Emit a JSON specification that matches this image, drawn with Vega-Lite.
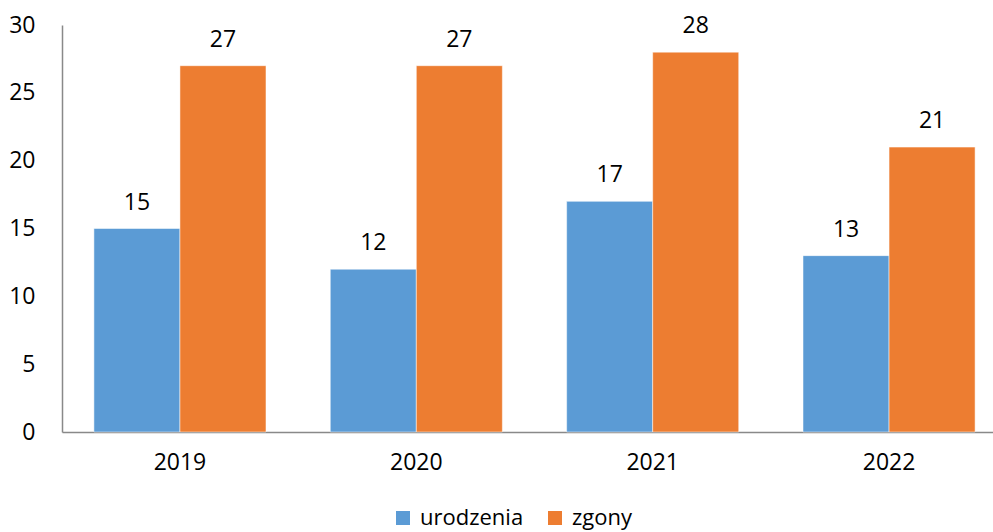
{
  "$schema": "https://vega.github.io/schema/vega-lite/v6.json",
  "autosize": {"type": "none"},
  "width": 945,
  "height": 407,
  "padding": {"left": 62, "top": 25, "right": 0, "bottom": 100},
  "background": "white",
  "config": {"view": {"stroke": null}, "font": "Open Sans"},
  "data": {"values": [
    {"rok": "2019", "seria": "urodzenia", "wartosc": 15},
    {"rok": "2019", "seria": "zgony", "wartosc": 27},
    {"rok": "2020", "seria": "urodzenia", "wartosc": 12},
    {"rok": "2020", "seria": "zgony", "wartosc": 27},
    {"rok": "2021", "seria": "urodzenia", "wartosc": 17},
    {"rok": "2021", "seria": "zgony", "wartosc": 28},
    {"rok": "2022", "seria": "urodzenia", "wartosc": 13},
    {"rok": "2022", "seria": "zgony", "wartosc": 21}
  ]},
  "encoding": {
    "x": {"field": "rok", "type": "nominal", "title": null,
      "scale": {"paddingInner": 0.272, "paddingOuter": 0.135},
      "axis": {"labelAngle": 0, "ticks": false, "labelPadding": 19, "labelFontSize": 23, "labelColor": "#000", "domainColor": "#898989", "domainWidth": 1.5, "labelFont": "Open Sans"}},
    "xOffset": {"field": "seria", "type": "nominal", "scale": {"paddingInner": 0}},
    "y": {"field": "wartosc", "type": "quantitative", "title": null,
      "scale": {"domain": [0, 30], "nice": false},
      "axis": {"values": [0, 5, 10, 15, 20, 25, 30], "grid": false, "ticks": false, "labelPadding": 27, "labelFontSize": 23, "labelColor": "#000", "domainColor": "#898989", "domainWidth": 1.5, "labelFont": "Open Sans"}}
  },
  "layer": [
    {"mark": {"type": "bar", "stroke": "white", "strokeWidth": 0.5},
     "encoding": {
       "color": {"field": "seria", "type": "nominal", "title": null,
         "scale": {"domain": ["urodzenia", "zgony"], "range": ["#5B9BD5", "#ED7D31"]},
         "legend": {"orient": "none", "legendX": 330, "legendY": 482, "direction": "horizontal", "symbolType": "square", "symbolSize": 196, "symbolStrokeWidth": 0, "labelFontSize": 22, "labelColor": "#000", "labelOffset": 6, "columnPadding": 20, "labelFont": "Open Sans", "symbolOpacity": 1}}
     }},
    {"mark": {"type": "text", "baseline": "alphabetic", "dy": -19, "fontSize": 23, "color": "#000", "font": "Open Sans"},
     "encoding": {"text": {"field": "wartosc", "type": "quantitative"}}}
  ]
}
